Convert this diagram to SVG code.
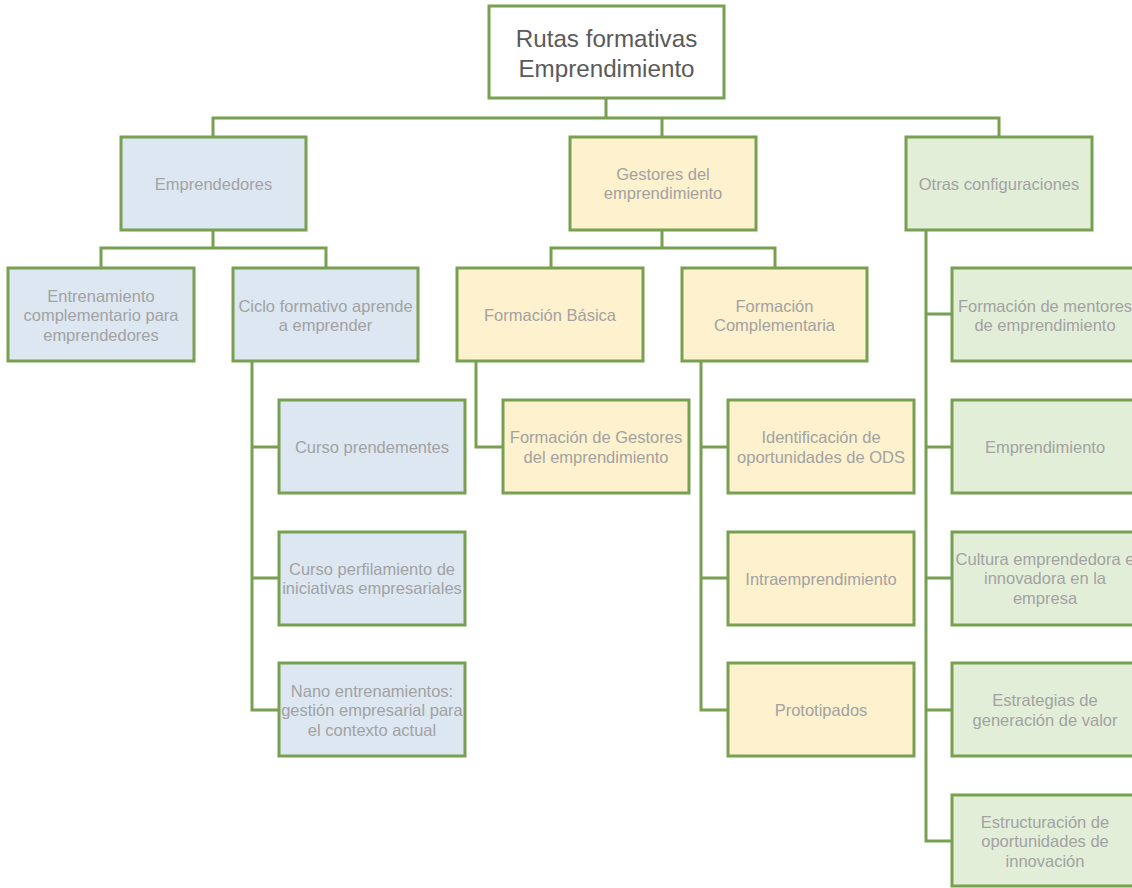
<svg xmlns="http://www.w3.org/2000/svg" width="1132" height="888" viewBox="0 0 1132 888">
<style>
rect{stroke:#77a050;stroke-width:3}
.b{fill:#dde7f2}.y{fill:#fef1cd}.g{fill:#e3eed9}.w{fill:#ffffff}
text{font-family:"Liberation Sans",Arial,sans-serif;font-size:16.5px;fill:#a2a2a2;text-anchor:middle}
.t{font-size:24.2px;fill:#5a5a5a}
#connectors path{fill:none;stroke:#77a050;stroke-width:3}
</style>
<rect width="1132" height="888" fill="#fff" style="stroke:none"/>
<g id="connectors">
<path d="M606 98V118M213 137V118H999V137M662 118V137"/>
<path d="M213 230V248M101 268V248H326V268"/>
<path d="M252 361V710H279M252 447H279M252 578H279"/>
<path d="M662 230V248M551 268V248H775V268"/>
<path d="M476 361V447H503"/>
<path d="M701 361V710H728M701 447H728M701 578H728"/>
<path d="M926 230V841H952M926 314H952M926 447H952M926 578H952M926 710H952"/>
</g>
<g id="root"><rect class="w" x="489" y="6" width="235" height="92"/><text class="t" x="606.5" y="46.5">Rutas formativas</text><text class="t" x="606.5" y="76.5">Emprendimiento</text></g>
<g id="emprendedores"><rect class="b" x="121" y="137" width="185" height="93"/><text x="213.5" y="189.5">Emprendedores</text></g>
<g id="gestores"><rect class="y" x="570" y="137" width="186" height="93"/><text x="663" y="179.5">Gestores del</text><text x="663" y="199">emprendimiento</text></g>
<g id="otras"><rect class="g" x="906" y="137" width="186" height="93"/><text x="999" y="189.5">Otras configuraciones</text></g>
<g id="entrenamiento"><rect class="b" x="8" y="268" width="186" height="93"/><text x="101" y="301.5">Entrenamiento</text><text x="101" y="321">complementario para</text><text x="101" y="340.5">emprendedores</text></g>
<g id="ciclo"><rect class="b" x="233" y="268" width="185" height="93"/><text x="325.5" y="311.5">Ciclo formativo aprende</text><text x="325.5" y="331">a emprender</text></g>
<g id="prendementes"><rect class="b" x="279" y="400" width="186" height="93"/><text x="372" y="452.5">Curso prendementes</text></g>
<g id="perfilamiento"><rect class="b" x="279" y="532" width="186" height="93"/><text x="372" y="574.5">Curso perfilamiento de</text><text x="372" y="594">iniciativas empresariales</text></g>
<g id="nano"><rect class="b" x="279" y="663" width="186" height="93"/><text x="372" y="696.5">Nano entrenamientos:</text><text x="372" y="716">gestión empresarial para</text><text x="372" y="735.5">el contexto actual</text></g>
<g id="basica"><rect class="y" x="457" y="268" width="186" height="93"/><text x="550" y="320.5">Formación Básica</text></g>
<g id="complementaria"><rect class="y" x="682" y="268" width="185" height="93"/><text x="774.5" y="311.5">Formación</text><text x="774.5" y="331">Complementaria</text></g>
<g id="formgestores"><rect class="y" x="503" y="400" width="186" height="93"/><text x="596" y="443">Formación de Gestores</text><text x="596" y="462.5">del emprendimiento</text></g>
<g id="ods"><rect class="y" x="728" y="400" width="186" height="93"/><text x="821" y="443">Identificación de</text><text x="821" y="462.5">oportunidades de ODS</text></g>
<g id="intra"><rect class="y" x="728" y="532" width="186" height="93"/><text x="821" y="584.5">Intraemprendimiento</text></g>
<g id="proto"><rect class="y" x="728" y="663" width="186" height="93"/><text x="821" y="715.5">Prototipados</text></g>
<g id="mentores"><rect class="g" x="952" y="268" width="186" height="93"/><text x="1045" y="311.5">Formación de mentores</text><text x="1045" y="331">de emprendimiento</text></g>
<g id="emprendimiento"><rect class="g" x="952" y="400" width="186" height="93"/><text x="1045" y="452.5">Emprendimiento</text></g>
<g id="cultura"><rect class="g" x="952" y="532" width="186" height="93"/><text x="1045" y="564.5">Cultura emprendedora e</text><text x="1045" y="584">innovadora en la</text><text x="1045" y="603.5">empresa</text></g>
<g id="estrategias"><rect class="g" x="952" y="663" width="186" height="93"/><text x="1045" y="706">Estrategias de</text><text x="1045" y="725.5">generación de valor</text></g>
<g id="estructuracion"><rect class="g" x="952" y="795" width="186" height="91"/><text x="1045" y="827.5">Estructuración de</text><text x="1045" y="847">oportunidades de</text><text x="1045" y="866.5">innovación</text></g>
</svg>
